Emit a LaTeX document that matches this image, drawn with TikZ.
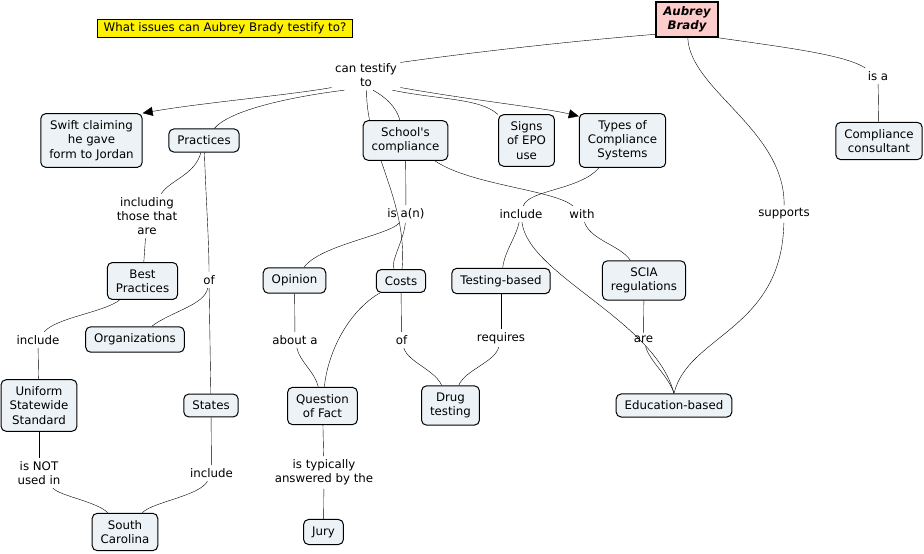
\documentclass[tikz,border=0pt]{standalone}
\usepackage{fontspec}
\setmainfont{DejaVu Sans}
\usetikzlibrary{arrows.meta,backgrounds}
\definecolor{conceptbg}{HTML}{ECF2F5}
\definecolor{rootbg}{HTML}{FFCCCC}

\begin{document}
\begin{tikzpicture}[x=1pt,y=-1pt,line width=1pt,
                every path/.style={>={Triangle[length=10pt,width=9pt]}},
                every node/.style={font=\fontsize{11.8}{14.2}\selectfont},
                concept/.style={draw,rounded corners=5pt,fill=conceptbg,align=center,inner xsep=8.5pt,inner ysep=7pt},
                linkph/.style={align=center,inner sep=3pt}]
  \useasboundingbox (0,0) rectangle (924,554);
  \node[draw,fill=yellow,inner xsep=6pt,inner ysep=3pt] (q) at (225,28.5) {What issues can Aubrey Brady testify to?};
  \node[draw,fill=rootbg,line width=2pt,inner xsep=7pt,inner ysep=4.5pt,align=center,
        font=\fontsize{11.8}{14.2}\selectfont\bfseries\itshape] (ab) at (687,19.5) {Aubrey\\Brady};
  % concepts
  \node[concept] (swift)   at (91.5,140.5) {Swift claiming\\he gave\\form to Jordan};
  \node[concept] (prac)    at (204,140.5)  {Practices};
  \node[concept] (school)  at (405.5,140.5) {School\textquotesingle{}s\\compliance};
  \node[concept] (signs)   at (526.5,140.5) {Signs\\of EPO\\use};
  \node[concept] (types)   at (622.5,140.5) {Types of\\Compliance\\Systems};
  \node[concept] (cons)    at (879,141)    {Compliance\\consultant};
  \node[concept] (best)    at (142.5,281)  {Best\\Practices};
  \node[concept] (org)     at (135,339.5)  {Organizations};
  \node[concept] (usw)     at (39,405.5)   {Uniform\\Statewide\\Standard};
  \node[concept] (states)  at (211,405.5)  {States};
  \node[concept] (sc)      at (125,532)    {South\\Carolina};
  \node[concept] (opinion) at (294.5,280.5) {Opinion};
  \node[concept] (costs)   at (401,281)    {Costs};
  \node[concept] (qof)     at (322.5,406)  {Question\\of Fact};
  \node[concept] (jury)    at (323.5,532)  {Jury};
  \node[concept] (testing) at (501,281)    {Testing-based};
  \node[concept] (drug)    at (450.5,405.5) {Drug\\testing};
  \node[concept] (scia)    at (644,280.5)  {SCIA\\regulations};
  \node[concept] (edu)     at (674,405.5)  {Education-based};
  % linking phrases
  \node[linkph] (ct)    at (366,75)    {can testify\\to};
  \node[linkph] (isa)   at (878,76)    {is a};
  \node[linkph] (sup)   at (784,214)   {supports};
  \node[linkph] (isan)  at (406,214)   {is a(n)};
  \node[linkph] (inc2)  at (521,214)   {include};
  \node[linkph] (with)  at (582,214)   {with};
  \node[linkph] (incl)  at (147,216)   {including\\those that\\are};
  \node[linkph] (of1)   at (209,280)   {of};
  \node[linkph] (inc1)  at (38,340)    {include};
  \node[linkph] (about) at (295,340)   {about a};
  \node[linkph] (of2)   at (401.5,340) {of};
  \node[linkph] (req)   at (501,338)   {requires};
  \node[linkph] (are)   at (643.5,339.5) {are};
  \node[linkph] (isnot) at (39,473)    {is NOT\\used in};
  \node[linkph] (inc3)  at (211.5,473) {include};
  \node[linkph] (typ)   at (324,472.5) {is typically\\answered by the};
  \begin{scope}[on background layer]
  \draw (ab.205) .. controls (560,42) and (460,54) .. (ct.20);
  \draw[->] (ct.200) .. controls (290,95) and (200,103) .. (swift.north east);
  \draw (ct.215) .. controls (290,97) and (230,110) .. (prac);
  \draw (ct.272) .. controls (366,150) and (408,200) .. (costs);
  \draw (ct.295) .. controls (385,97) and (396,106) .. (school);
  \draw (ct.330) .. controls (440,100) and (480,98) .. (signs);
  \draw[->] (ct.340) .. controls (470,100) and (545,108) .. (types.151);
  \draw (ab.south east) .. controls (790,48) and (845,55) .. (isa);
  \draw (isa) -- (cons);
  \draw (ab) .. controls (690,90) and (785,130) .. (sup);
  \draw (sup) .. controls (782,330) and (688,335) .. (edu.north);
  \draw (school) -- (isan);
  \draw (isan) .. controls (390,235) and (320,245) .. (opinion);
  \draw (isan) .. controls (404,240) and (390,262) .. (costs);
  \draw (school) .. controls (470,185) and (555,190) .. (with);
  \draw (with) .. controls (590,240) and (620,245) .. (scia);
  \draw (types) .. controls (580,190) and (528,190) .. (inc2);
  \draw (inc2) .. controls (515,240) and (505,250) .. (testing);
  \draw (inc2) .. controls (528,275) and (655,320) .. (edu.north);
  \draw (scia) -- (are);
  \draw (are) .. controls (650,362) and (668,375) .. (edu.north);
  \draw (testing) -- (req);
  \draw (req) .. controls (495,362) and (465,370) .. (drug);
  \draw (costs) -- (of2);
  \draw (of2) .. controls (408,362) and (435,370) .. (drug);
  \draw (costs) .. controls (350,310) and (328,350) .. (qof);
  \draw (opinion) -- (about);
  \draw (about) .. controls (300,362) and (315,372) .. (qof);
  \draw (qof) -- (typ);
  \draw (typ) -- (jury);
  \draw (prac) .. controls (195,175) and (170,180) .. (incl);
  \draw (incl) -- (best);
  \draw (prac) .. controls (206,200) and (209,240) .. (of1);
  \draw (of1) .. controls (205,305) and (170,312) .. (org);
  \draw (of1) -- (states);
  \draw (best) .. controls (105,312) and (55,318) .. (inc1);
  \draw (inc1) -- (usw);
  \draw (usw) -- (isnot);
  \draw (isnot) .. controls (60,496) and (98,502) .. (sc);
  \draw (states) -- (inc3);
  \draw (inc3) .. controls (200,496) and (152,502) .. (sc);
  \end{scope}
\end{tikzpicture}
\end{document}
